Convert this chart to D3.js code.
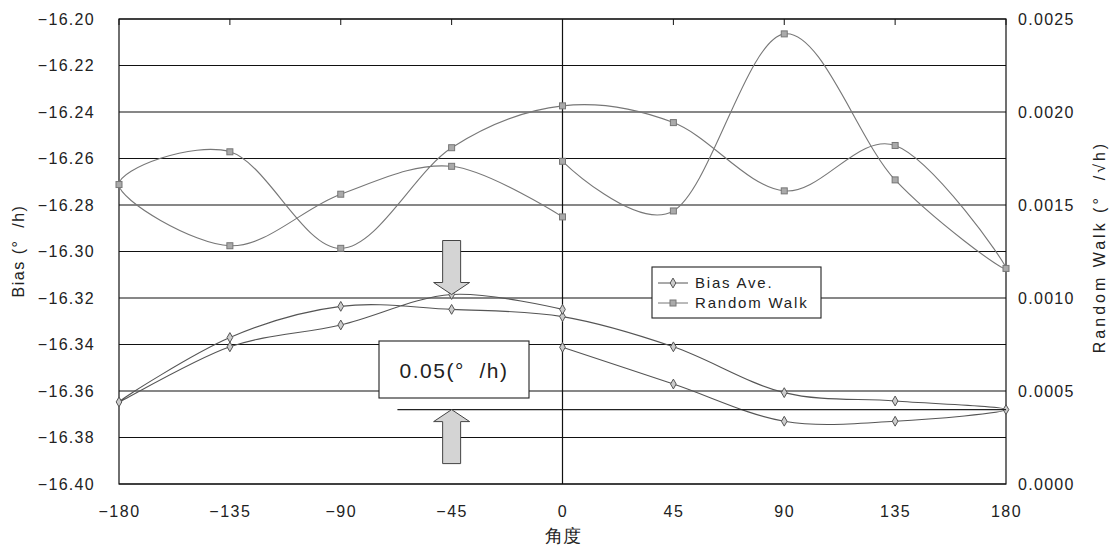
<!DOCTYPE html>
<html>
<head>
<meta charset="utf-8">
<script src="https://cdn.jsdelivr.net/npm/d3@7"></script>
<style>
  body { margin: 0; background: #fff; }
  text { font-family: "Liberation Sans", Arial, sans-serif; fill: #222; }
</style>
</head>
<body>
<div id="chart-area"></div>
<script>
// measurement order: 0 -> 180 -> -180 -> 0
var angles = [0, 45, 90, 135, 180, 135, 90, 45, 0, -45, -90, -135, -180, -135, -90, -45, 0];
var biasAve = [-16.3412, -16.357, -16.373, -16.373, -16.368, -16.3643, -16.3607, -16.341, -16.328,
               -16.3249, -16.3236, -16.337, -16.3647, -16.341, -16.3316, -16.3185, -16.3249];
var rwAngles = [0, 45, 90, 135, 180, 135, 90, 45, 0, -45, -90, -135, -180, -135, -90, -45, 0];
var randomWalk = [0.001735, 0.001468, 0.00242, 0.001635, 0.001159, 0.00182, 0.001576, 0.001943, 0.002033,
                  0.001808, 0.001267, 0.001786, 0.00161, 0.001281, 0.001558, 0.001708, 0.001436];

var xTicks = [-180, -135, -90, -45, 0, 45, 90, 135, 180];
var leftTicks = [-16.40, -16.38, -16.36, -16.34, -16.32, -16.30, -16.28, -16.26, -16.24, -16.22, -16.20];
var rightTicks = [0, 0.0005, 0.0010, 0.0015, 0.0020, 0.0025];
var seriesNames = ["Bias Ave.", "Random Walk"];

// annotation: 0.05 deg/h span
var annoAngle = -45;
var annoTop = -16.3185;
var annoBottom = -16.368;
var annoLineFrom = -67;
var annoText = "0.05(°\u00a0\u00a0/h)";

var margin = { left:119, right:105, top:19, bottom:62 };
var width = 1111 - margin.left - margin.right;
var height = 546 - margin.top - margin.bottom;

var svg = d3.select("#chart-area")
    .append("svg")
    .attr("width", 1111)
    .attr("height", 546);
var g = svg.append("g")
    .attr("transform", "translate(" + margin.left + "," + margin.top + ")");

var x = d3.scaleLinear().domain([-180, 180]).range([0, width]);
var yL = d3.scaleLinear().domain([-16.40, -16.20]).range([height, 0]);
var yR = d3.scaleLinear().domain([0, 0.0025]).range([height, 0]);

// gridlines
g.selectAll(".grid")
    .data(leftTicks)
    .enter().append("line")
    .attr("x1", 0).attr("x2", width)
    .attr("y1", d => yL(d)).attr("y2", d => yL(d))
    .attr("stroke", "#111").attr("stroke-width", 1.2);

// vertical zero line
g.append("line")
    .attr("x1", x(0)).attr("x2", x(0))
    .attr("y1", 0).attr("y2", height)
    .attr("stroke", "#111").attr("stroke-width", 1.2);

// plot border
g.append("rect")
    .attr("width", width).attr("height", height)
    .attr("fill", "none").attr("stroke", "#111").attr("stroke-width", 1.2);

// small ticks on top edge
g.selectAll(".topTick")
    .data(xTicks)
    .enter().append("line")
    .attr("x1", d => x(d)).attr("x2", d => x(d))
    .attr("y1", 0).attr("y2", 6)
    .attr("stroke", "#111");

// axes text
var xAxis = d3.axisBottom(x).tickValues(xTicks).tickSize(0).tickPadding(22)
    .tickFormat(d => d < 0 ? "\u2212" + Math.abs(d) : d);
g.append("g")
    .attr("transform", "translate(0," + height + ")")
    .call(xAxis)
    .call(a => a.select(".domain").remove())
    .selectAll("text").attr("font-size", "16px").attr("letter-spacing", "1.5px");

var yAxisL = d3.axisLeft(yL).tickValues(leftTicks).tickSize(0).tickPadding(24)
    .tickFormat(d => "\u2212" + Math.abs(d).toFixed(2));
g.append("g")
    .call(yAxisL)
    .call(a => a.select(".domain").remove())
    .selectAll("text").attr("font-size", "16px").attr("letter-spacing", "1.3px");

var yAxisR = d3.axisRight(yR).tickValues(rightTicks).tickSize(0).tickPadding(12)
    .tickFormat(d3.format(".4f"));
g.append("g")
    .attr("transform", "translate(" + width + ",0)")
    .call(yAxisR)
    .call(a => a.select(".domain").remove())
    .selectAll("text").attr("font-size", "16px").attr("letter-spacing", "1.3px");

// axis titles
svg.append("text")
    .attr("transform", "translate(24," + 251 + ") rotate(-90)")
    .attr("text-anchor", "middle").attr("font-size", "16px").attr("letter-spacing", "1.5px")
    .text("Bias (°\u00a0\u00a0/h)");
svg.append("text")
    .attr("transform", "translate(1105," + 247 + ") rotate(-90)")
    .attr("text-anchor", "middle").attr("font-size", "16px").attr("letter-spacing", "3px")
    .text("Random Walk (°\u00a0\u00a0/\u221Ah)");
svg.append("text")
    .attr("x", margin.left + x(0)).attr("y", 542)
    .attr("text-anchor", "middle").attr("font-size", "18px")
    .attr("font-family", "Noto Sans CJK JP")
    .text("角度");

// series
var curve = d3.curveCardinal.tension(0);
var biasData = angles.map((a, i) => ({ a: a, v: biasAve[i] }));
var rwData = rwAngles.map((a, i) => ({ a: a, v: randomWalk[i] }));

g.append("path")
    .datum(biasData)
    .attr("fill", "none").attr("stroke", "#555").attr("stroke-width", 1.1)
    .attr("d", d3.line().x(d => x(d.a)).y(d => yL(d.v)).curve(curve));
g.append("path")
    .datum(rwData)
    .attr("fill", "none").attr("stroke", "#777").attr("stroke-width", 1.1)
    .attr("d", d3.line().x(d => x(d.a)).y(d => yR(d.v)).curve(curve));

var diamond = d3.symbol().type(d3.symbolDiamond).size(28);
g.selectAll(".bias")
    .data(biasData)
    .enter().append("path")
    .attr("d", diamond)
    .attr("transform", d => "translate(" + x(d.a) + "," + yL(d.v) + ")")
    .attr("fill", "#ccc").attr("stroke", "#555").attr("stroke-width", 1);

g.selectAll(".rw")
    .data(rwData)
    .enter().append("rect")
    .attr("x", d => x(d.a) - 3).attr("y", d => yR(d.v) - 3)
    .attr("width", 6).attr("height", 6)
    .attr("fill", "#aaa").attr("stroke", "#777").attr("stroke-width", 1);

// annotation: reference line, arrows, label box
g.append("line")
    .attr("x1", x(annoLineFrom)).attr("x2", x(180))
    .attr("y1", yL(annoBottom)).attr("y2", yL(annoBottom))
    .attr("stroke", "#222").attr("stroke-width", 1.1);

function arrow(tipX, tipY, dir) {
    // dir = 1 pointing down, -1 pointing up
    var hw = 18, sw = 9, hh = 12, len = 54;
    var pts = [
        [tipX, tipY],
        [tipX - hw, tipY - dir * hh],
        [tipX - sw, tipY - dir * hh],
        [tipX - sw, tipY - dir * len],
        [tipX + sw, tipY - dir * len],
        [tipX + sw, tipY - dir * hh],
        [tipX + hw, tipY - dir * hh]
    ];
    g.append("path")
        .attr("d", "M" + pts.join("L") + "Z")
        .attr("fill", "#d4d4d4").attr("stroke", "#444").attr("stroke-width", 1);
}
arrow(x(annoAngle), yL(annoTop), 1);
arrow(x(annoAngle), yL(annoBottom), -1);

g.append("rect")
    .attr("x", 260).attr("y", 322)
    .attr("width", 150).attr("height", 57)
    .attr("fill", "#fff").attr("stroke", "#222").attr("stroke-width", 1.1);
g.append("text")
    .attr("x", 335).attr("y", 359)
    .attr("text-anchor", "middle").attr("font-size", "21px").attr("letter-spacing", "1.5px")
    .text(annoText);

// legend
var lg = g.append("g").attr("transform", "translate(533,248)");
lg.append("rect")
    .attr("width", 169).attr("height", 51)
    .attr("fill", "#fff").attr("stroke", "#222").attr("stroke-width", 1.1);
seriesNames.forEach(function(name, i) {
    var yy = 16 + i * 20;
    lg.append("line").attr("x1", 6).attr("x2", 36).attr("y1", yy).attr("y2", yy)
        .attr("stroke", i === 0 ? "#555" : "#777");
    if (i === 0) {
        lg.append("path").attr("d", diamond).attr("transform", "translate(21," + yy + ")")
            .attr("fill", "#ccc").attr("stroke", "#555");
    } else {
        lg.append("rect").attr("x", 18).attr("y", yy - 3).attr("width", 6).attr("height", 6)
            .attr("fill", "#aaa").attr("stroke", "#777");
    }
    lg.append("text").attr("x", 43).attr("y", yy + 5)
        .attr("font-size", "15px").attr("letter-spacing", "1.8px").text(name);
});
</script>
</body>
</html>
